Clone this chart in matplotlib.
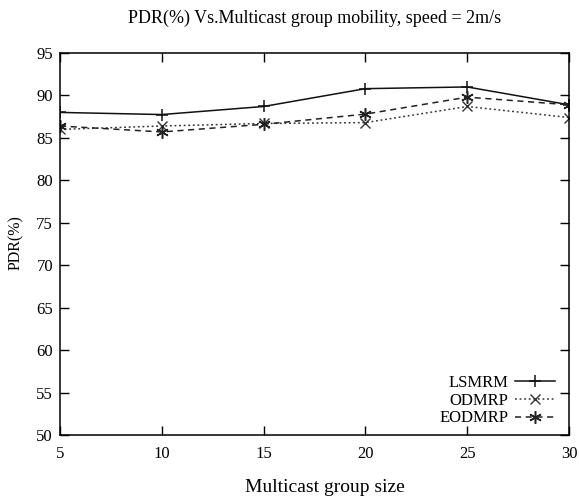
import matplotlib
matplotlib.use("Agg")
import matplotlib.pyplot as plt

group_size = [5, 10, 15, 20, 25, 30]
lsmrm = [88.0, 87.75, 88.7, 90.8, 91.0, 88.9]
odmrp = [86.0, 86.4, 86.7, 86.8, 88.7, 87.4]
eodmrp = [86.4, 85.7, 86.6, 87.8, 89.8, 88.9]
yticks = [50, 55, 60, 65, 70, 75, 80, 85, 90, 95]
xticks = [5, 10, 15, 20, 25, 30]

plt.rcParams['font.family'] = ['Liberation Serif', 'DejaVu Serif']

fig = plt.figure(figsize=(5.79, 5.03), dpi=100)
W, H = 579, 503
ax = fig.add_axes([60 / W, 1 - 435 / H, (569 - 60) / W, (435 - 53) / H])

asterisk = (6, 2, 0)
ax.plot(group_size, lsmrm, color='#111111', lw=1.1, ls='-', marker='+', ms=9, mew=1.1, label='LSMRM')
ax.plot(group_size, odmrp, color='#333333', lw=1.1, ls=(0, (1.2, 1.8)), marker='x', ms=7, mew=1.0, label='ODMRP')
ax.plot(group_size, eodmrp, color='#222222', lw=1.1, ls=(0, (4, 3)), marker=asterisk, ms=9, mew=1.1, label='EODMRP')

ax.set_xlim(5, 30)
ax.set_ylim(50, 95)
ax.set_xticks(xticks)
ax.set_yticks(yticks)
ax.tick_params(direction='in', top=True, right=True, length=6.5, width=1, labelsize=12)
ax.tick_params(axis='x', pad=8)
ax.tick_params(axis='y', pad=5)
for s in ax.spines.values():
    s.set_linewidth(1.1)

fig.text(0.5 * (60 + 569) / W, 1 - 18 / H, 'PDR(%) Vs.Multicast group mobility, speed = 2m/s',
         ha='center', va='center', fontsize=13)
fig.text(325 / W, 1 - 487 / H, 'Multicast group size', ha='center', va='center', fontsize=14)
fig.text(16 / W, 1 - 243 / H, 'PDR(%)', ha='center', va='center', rotation=90, fontsize=11.5)

leg = ax.legend(loc='lower right', markerfirst=False, frameon=False, fontsize=12,
                handlelength=2.4, handletextpad=0.4, labelspacing=0.1,
                bbox_to_anchor=(0.985, 0.005), borderaxespad=0.0)

fig.savefig('out.png', dpi=100)
